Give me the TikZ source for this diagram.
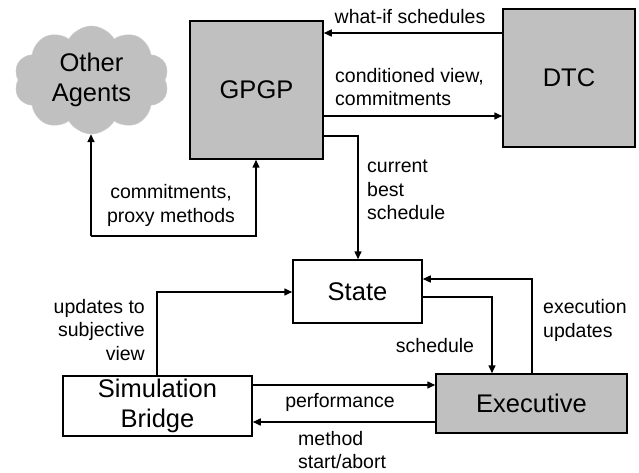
\documentclass[tikz,border=0pt]{standalone}
\usepackage{fontspec}
\setmainfont{Liberation Sans}
\usetikzlibrary{shapes.symbols,arrows.meta}
\definecolor{boxgray}{HTML}{C0C0C0}
\tikzset{
  box/.style={draw=black, line width=1.5pt, inner sep=0pt, font=\fontsize{25.5}{30.5}\selectfont, align=center},
  gbox/.style={box, fill=boxgray},
  wbox/.style={box, fill=white},
  conn/.style={line width=1.5pt, -{Triangle[length=8pt,width=7pt]}},
  lbl/.style={font=\fontsize{19.5}{23.5}\selectfont, inner sep=0pt},
}
\begin{document}
\begin{tikzpicture}[x=1pt,y=-1pt]
\useasboundingbox (0,0) rectangle (639,473);
% nodes
\node[cloud, cloud puffs=10, cloud puff arc=120, aspect=1.4, fill=boxgray, draw=boxgray!80!white, minimum width=155pt, minimum height=108pt, inner sep=0pt, font=\fontsize{25.5}{30}\selectfont, align=center] (oa) at (91.5,80) {Other\\Agents};
\node[gbox, minimum width=133pt, minimum height=138pt] (gpgp) at (256.5,90) {GPGP};
\node[gbox, minimum width=132pt, minimum height=138pt] (dtc) at (569,78) {DTC};
\node[wbox, minimum width=129pt, minimum height=63pt] (state) at (357.5,291.5) {State};
\node[wbox, minimum width=189pt, minimum height=60pt] (sim) at (157.5,406) {Simulation\\Bridge};
\node[gbox, minimum width=191pt, minimum height=59pt] (exec) at (531.5,403.5) {Executive};
% helper coordinates
\coordinate (yw) at (0,33);
\coordinate (yc) at (0,116);
\coordinate (yb) at (0,136);
\coordinate (xb) at (358,0);
\coordinate (xoa) at (91,0);
\coordinate (xg) at (256,0);
\coordinate (yp) at (0,236);
\coordinate (xu) at (157,0);
\coordinate (yu) at (0,292);
\coordinate (ys) at (0,297);
\coordinate (xs) at (492,0);
\coordinate (xe) at (532,0);
\coordinate (ye) at (0,279);
\coordinate (yperf) at (0,385);
\coordinate (ymeth) at (0,422);
% connectors
\draw[conn] (dtc.west |- yw) -- (gpgp.east |- yw);
\draw[conn] (gpgp.east |- yc) -- (dtc.west |- yc);
\draw[conn] (gpgp.east |- yb) -| (xb |- state.north);
\draw[conn] (xoa |- yp) -- (xoa |- oa.south);
\draw[conn] (xoa |- yp) -| (xg |- gpgp.south);
\draw[conn] (xu |- sim.north) |- (state.west |- yu);
\draw[conn] (state.east |- ys) -| (xs |- exec.north);
\draw[conn] (xe |- exec.north) |- (state.east |- ye);
\draw[conn] (sim.east |- yperf) -- (exec.west |- yperf);
\draw[conn] (exec.west |- ymeth) -- (sim.east |- ymeth);
% labels
\node[lbl] (l1) at (410,17) {what-if schedules};
\node[lbl, anchor=west, align=left] (l2) at (335,87) {conditioned view,\\commitments};
\node[lbl, anchor=west, align=left] (l3) at (367,190) {current\\best\\schedule};
\node[lbl, align=center] (l4) at (171,205.5) {commitments,\\proxy methods};
\node[lbl, anchor=east, align=right] (l5) at (145,330) {updates to\\subjective\\view};
\node[lbl] (l6) at (435,346) {schedule};
\node[lbl, anchor=west, align=left] (l7) at (543,320.5) {execution\\updates};
\node[lbl] (l8) at (340,402) {performance};
\node[lbl, anchor=west, align=left] (l9) at (298,450) {method\\start/abort};
\end{tikzpicture}
\end{document}
